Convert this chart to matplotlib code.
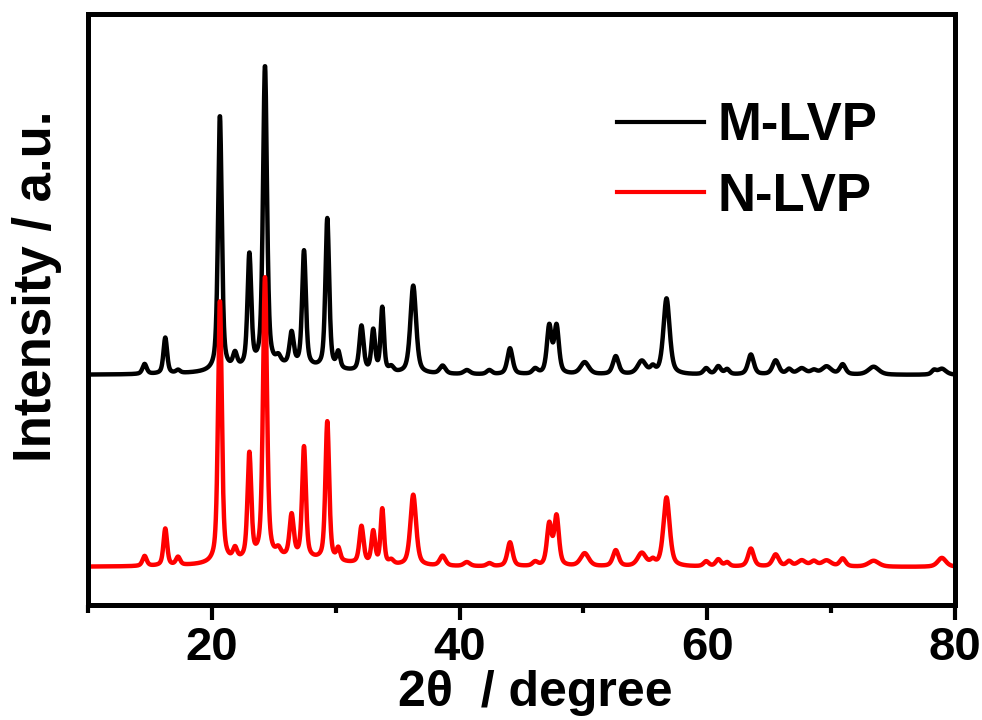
import numpy as np
import matplotlib
matplotlib.use('Agg')
import matplotlib.pyplot as plt
from matplotlib.font_manager import FontProperties

# peak list (2theta, height above baseline, fwhm)
peak_pos = [14.57, 16.24, 17.27, 20.65, 21.87, 23.03, 24.29, 25.37, 26.44, 27.44,
            29.32, 30.21, 32.08, 33.03, 33.76, 34.49, 36.26, 38.63, 40.59, 44.07,
            47.24, 47.83, 50.10, 52.61, 54.71, 56.71, 59.91, 60.89, 63.52, 65.52,
            67.62, 69.63, 70.93, 73.43, 78.94,
            42.4, 46.1, 55.6, 61.6, 66.6, 68.6, 78.3, 26.0]
peak_fwhm = [0.4, 0.35, 0.4, 0.36, 0.4, 0.36, 0.38, 0.45, 0.4, 0.36,
             0.36, 0.35, 0.4, 0.35, 0.32, 0.45, 0.55, 0.55, 0.6, 0.5,
             0.45, 0.45, 0.8, 0.55, 0.8, 0.6, 0.5, 0.5, 0.55, 0.6,
             0.8, 0.9, 0.55, 1.0, 0.8,
             0.5, 0.5, 0.45, 0.45, 0.5, 0.6, 0.45, 9.0]
m_heights = [10, 36, 3, 255, 14, 112, 300, 7, 32, 115,
             150, 16, 45, 41, 64, 5, 88, 8, 4, 26,
             47, 47, 12, 18, 13, 76, 6, 8, 20, 14,
             6, 8, 10, 8, 6,
             4, 5, 6, 5, 5, 4, 4, 8]
n_heights = [10, 37, 8, 262, 11, 105, 281, 7, 42, 111,
             139, 12, 37, 32, 55, 4, 71, 10, 4, 24,
             41, 49, 13, 16, 13, 69, 5, 7, 18, 12,
             6, 6, 8, 6, 9,
             3, 4, 5, 4, 5, 5, 0, 8]
m_base = 230
n_base = 38

labels = ['M-LVP', 'N-LVP']
colors = ['black', '#ff0000']

two_theta = np.linspace(10, 80, 3501)


def pattern(heights, base):
    y = np.full_like(two_theta, float(base))
    for p, h, w in zip(peak_pos, heights, peak_fwhm):
        g = np.exp(-4 * np.log(2) * ((two_theta - p) / w) ** 2)
        l = 1 / (1 + 4 * ((two_theta - p) / w) ** 2)
        y += h * (0.45 * g + 0.55 * l)
    return y


plt.rcParams['font.family'] = ['Liberation Sans', 'DejaVu Sans']
plt.rcParams['font.weight'] = 'bold'

fig = plt.figure(figsize=(9.82, 7.2), dpi=100)
ax = fig.add_axes([88 / 982, 1 - 605 / 720, 867 / 982, 591 / 720])

ax.plot(two_theta, pattern(m_heights, m_base), color=colors[0], lw=3.2, label=labels[0])
ax.plot(two_theta, pattern(n_heights, n_base), color=colors[1], lw=3.2, label=labels[1])

ax.set_xlim(10, 80)
ax.set_ylim(0, 591)
ax.set_xticks([20, 40, 60, 80])
ax.set_xticks([10, 30, 50, 70], minor=True)
ax.set_yticks([])
for s in ax.spines.values():
    s.set_linewidth(3.6)
ax.tick_params(axis='x', which='major', length=11, width=3, pad=4, labelsize=34)
ax.tick_params(axis='x', which='minor', length=5.5, width=3)

ax.set_xlabel('2θ  / degree', fontsize=36, fontweight='bold')
ax.xaxis.set_label_coords(0.516, -0.11)
ax.set_ylabel('Intensity / a.u.', fontsize=38, fontweight='bold')
ax.yaxis.set_label_coords(-0.03, 0.54)

leg = ax.legend(loc='upper left', bbox_to_anchor=(0.61, 0.852), frameon=False,
                prop=FontProperties(family=['Liberation Sans', 'DejaVu Sans'], weight='bold', size=38),
                handlelength=1.65, handletextpad=0.25, labelspacing=0.38,
                borderpad=0, borderaxespad=0)
for h in leg.get_lines():
    h.set_linewidth(3.0)

fig.savefig('out.png', dpi=100)
